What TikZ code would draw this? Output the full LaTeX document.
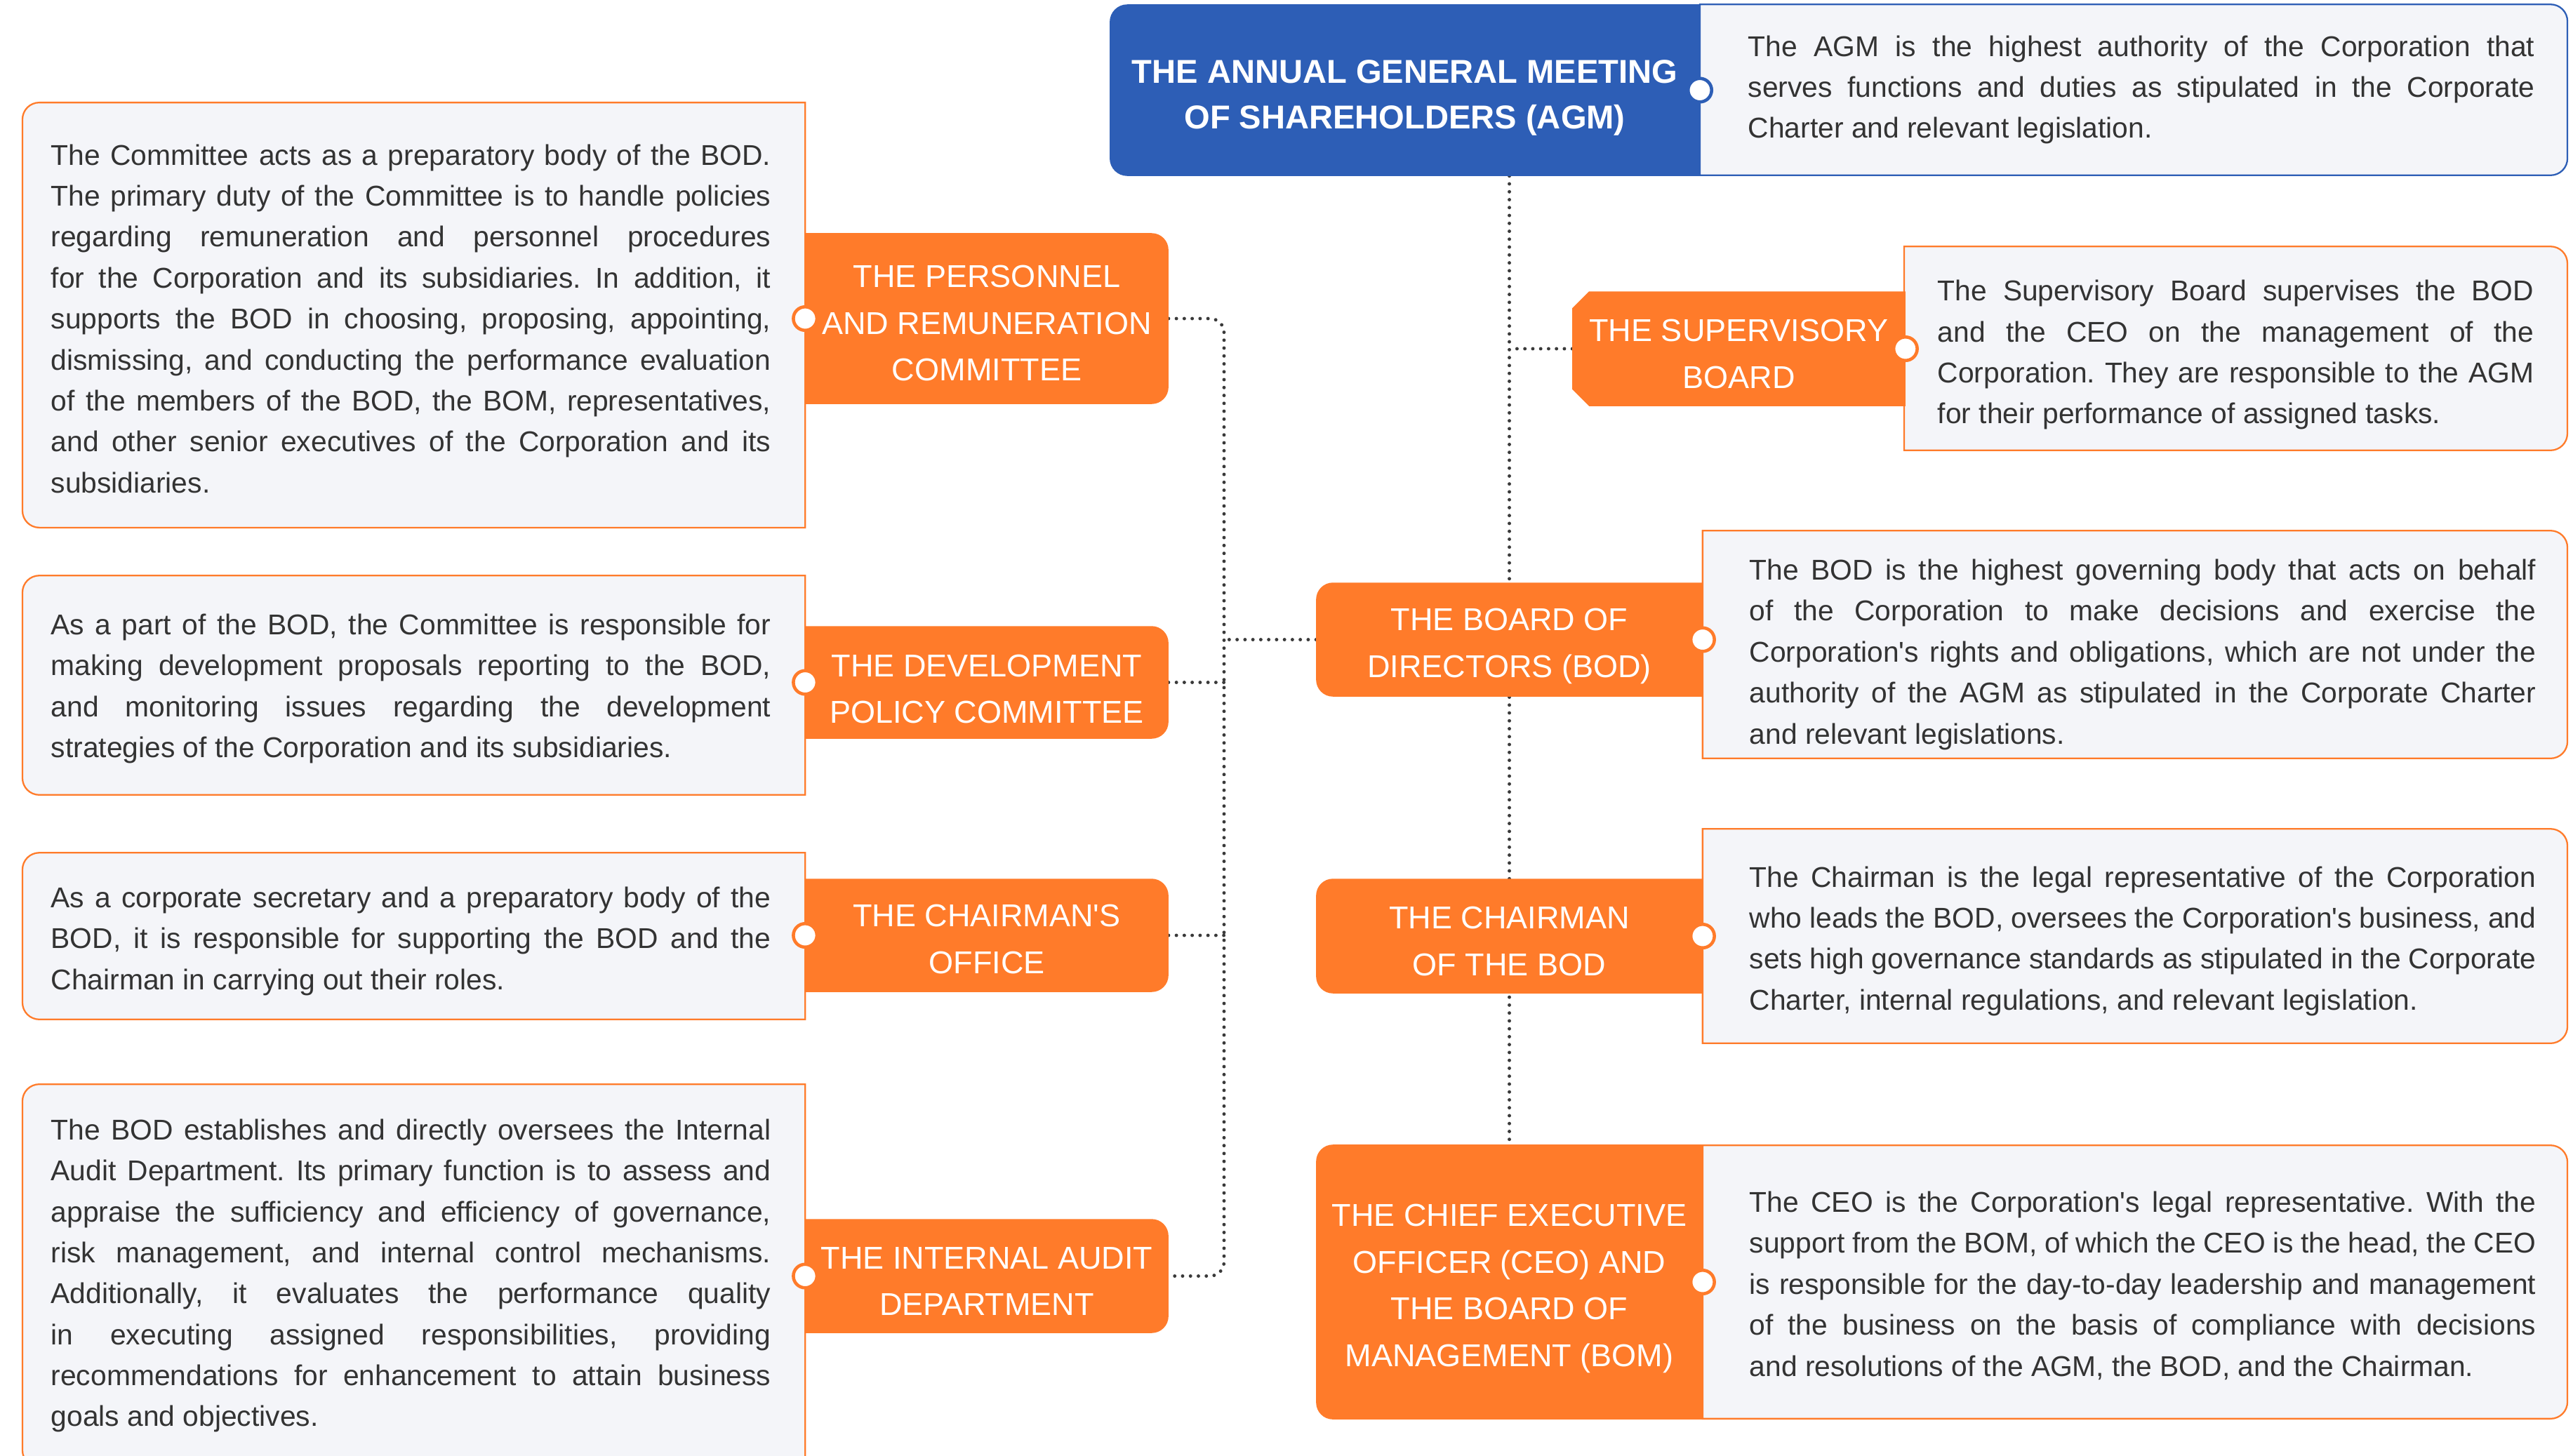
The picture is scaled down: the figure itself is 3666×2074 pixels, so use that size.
\documentclass[tikz,border=0pt]{standalone}
\usepackage{fontspec}
\setmainfont{Liberation Sans}
\usetikzlibrary{backgrounds}

\definecolor{corporange}{HTML}{FF7B2A}
\definecolor{agmblue}{HTML}{2D5EB6}
\definecolor{panel}{HTML}{F4F5F9}
\definecolor{textgray}{HTML}{333333}
\definecolor{linkgray}{HTML}{3A3A3A}
\tolerance=9999
\hyphenpenalty=10000
\frenchspacing

\begin{document}
\begin{tikzpicture}[
  x=0.01cm, y=-0.01cm,
  desctext/.style={inner sep=0pt, text=textgray, align=justify, font=\fontsize{11.6pt}{16.6pt}\selectfont},
  headtext/.style={inner sep=0pt, text=white, align=center, text depth=0pt, font=\fontsize{12.8pt}{18.9pt}\selectfont},
  panelbox/.style={fill=panel, draw=corporange, line width=0.65pt},
  headbox/.style={fill=corporange},
  link/.style={draw=linkgray, line width=1.4pt, line cap=round, dash pattern=on 0pt off 3.2pt},
  knob/.style={circle, fill=white, draw=corporange, line width=1.3pt, minimum size=0.335cm, inner sep=0pt}
]
  \useasboundingbox (0,0) rectangle (3666,2074);

  % right column
  \node[headtext, font=\bfseries\fontsize{13.4pt}{18.6pt}\selectfont, minimum width=8.39cm, minimum height=2.43cm] (agm) at (2001.5,128.5) {\rule{0pt}{12.7pt}THE ANNUAL GENERAL MEETING\\OF SHAREHOLDERS (AGM)};
  \node[desctext, text width=11.2cm, minimum width=12.12cm, minimum height=2.42cm] (agmd) at (3051,128) {The AGM is the highest authority of the Corporation that\linebreak serves functions and duties as stipulated in the Corporate\linebreak Charter and relevant legislation.};

  \node[headtext, minimum width=4.73cm, minimum height=1.62cm] (sb) at (2477.5,497) {\rule{0pt}{13.1pt}THE SUPERVISORY\\BOARD};
  \node[desctext, text width=8.49cm, minimum width=9.43cm, minimum height=2.89cm] (sbd) at (3185.5,496.5) {\rule{0pt}{13.6pt}The Supervisory Board supervises the BOD\linebreak and the CEO on the management of the\linebreak Corporation. They are responsible to the AGM\linebreak for their performance of assigned tasks.};

  \node[headtext, minimum width=5.49cm, minimum height=1.61cm] (bod) at (2150.5,911.5) {\rule{0pt}{11.6pt}THE BOARD OF\\DIRECTORS (BOD)};
  \node[desctext, text width=11.2cm, minimum width=12.08cm, minimum height=3.23cm] (bodd) at (3053,918.5) {\rule{0pt}{16.5pt}The BOD is the highest governing body that acts on behalf\linebreak of the Corporation to make decisions and exercise the\linebreak Corporation\textquotesingle s rights and obligations, which are not under the\linebreak authority of the AGM as stipulated in the Corporate Charter\linebreak and relevant legislations.};

  \node[headtext, minimum width=5.49cm, minimum height=1.62cm] (chm) at (2150.5,1334) {\rule{0pt}{13.1pt}THE CHAIRMAN\\OF THE BOD};
  \node[desctext, text width=11.2cm, minimum width=12.08cm, minimum height=3.04cm] (chmd) at (3053,1334) {\rule{0pt}{12.5pt}The Chairman is the legal representative of the Corporation\linebreak who leads the BOD, oversees the Corporation\textquotesingle s business, and\linebreak sets high governance standards as stipulated in the Corporate\linebreak Charter, internal regulations, and relevant legislation.};

  \node[headtext, minimum width=5.49cm, minimum height=3.90cm] (ceo) at (2150.5,1827) {\rule{0pt}{11.6pt}THE CHIEF EXECUTIVE\\OFFICER (CEO) AND\\THE BOARD OF\\MANAGEMENT (BOM)};
  \node[desctext, text width=11.2cm, minimum width=12.08cm, minimum height=3.88cm] (ceod) at (3053,1827) {\rule{0pt}{11.3pt}The CEO is the Corporation\textquotesingle s legal representative. With the\linebreak support from the BOM, of which the CEO is the head, the CEO\linebreak is responsible for the day-to-day leadership and management\linebreak of the business on the basis of compliance with decisions\linebreak and resolutions of the AGM, the BOD, and the Chairman.};

  % left column
  \node[desctext, text width=10.25cm, minimum width=11.05cm, minimum height=6.04cm] (prcd) at (585.5,449) {\rule{0pt}{11.3pt}The Committee acts as a preparatory body of the BOD.\linebreak The primary duty of the Committee is to handle policies\linebreak regarding remuneration and personnel procedures\linebreak for the Corporation and its subsidiaries. In addition, it\linebreak supports the BOD in choosing, proposing, appointing,\linebreak dismissing, and conducting the performance evaluation\linebreak of the members of the BOD, the BOM, representatives,\linebreak and other senior executives of the Corporation and its\linebreak subsidiaries.};
  \node[headtext, minimum width=5.16cm, minimum height=2.42cm] (prc) at (1406,454) {\rule{0pt}{12.6pt}THE PERSONNEL\\AND REMUNERATION\\COMMITTEE};

  \node[desctext, text width=10.25cm, minimum width=11.05cm, minimum height=3.11cm] (dpcd) at (585.5,976.5) {\rule{0pt}{11.3pt}As a part of the BOD, the Committee is responsible for\linebreak making development proposals reporting to the BOD,\linebreak and monitoring issues regarding the development\linebreak strategies of the Corporation and its subsidiaries.};
  \node[headtext, minimum width=5.16cm, minimum height=1.59cm] (dpc) at (1406,972.5) {\rule{0pt}{14.3pt}THE DEVELOPMENT\\POLICY COMMITTEE};

  \node[desctext, text width=10.25cm, minimum width=11.05cm, minimum height=2.36cm] (cofd) at (585.5,1334) {\rule{0pt}{12.5pt}As a corporate secretary and a preparatory body of the\linebreak BOD, it is responsible for supporting the BOD and the\linebreak Chairman in carrying out their roles.};
  \node[headtext, minimum width=5.16cm, minimum height=1.60cm] (cof) at (1406,1333) {\rule{0pt}{12pt}THE CHAIRMAN\textquotesingle S\\OFFICE};

  \node[desctext, text width=10.25cm, minimum width=11.05cm, minimum height=5.44cm] (iadd) at (585.5,1818) {The BOD establishes and directly oversees the Internal\linebreak Audit Department. Its primary function is to assess and\linebreak appraise the sufficiency and efficiency of governance,\linebreak risk management, and internal control mechanisms.\linebreak Additionally, it evaluates the performance quality\linebreak in executing assigned responsibilities, providing\linebreak recommendations for enhancement to attain business\linebreak goals and objectives.};
  \node[headtext, minimum width=5.16cm, minimum height=1.61cm] (iad) at (1406,1818.5) {\rule{0pt}{13.1pt}THE INTERNAL AUDIT\\DEPARTMENT};

  \coordinate (bus) at (1744,913);

  \begin{scope}[on background layer]
    % connectors
    \draw[link] (agm.south -| bod.north) -- (ceo.north);
    \draw[link] (sb.west) -- (sb.west -| bod.north);
    \draw[link] (bod.west) -- (bod.west -| bus);
    \draw[link, rounded corners=0.2cm] (prc.east) -- (prc.east -| bus) -- (iad.east -| bus) -- (iad.east);
    \draw[link] (dpc.east) -- (dpc.east -| bus);
    \draw[link] (cof.east) -- (cof.east -| bus);

    % panels, right side rounded (left edge runs on to the head box)
    \path[panelbox, draw=agmblue] (agm.north east) -- ([xshift=-0.24cm]agmd.north east) arc[start angle=90, end angle=0, radius=0.24cm]
      -- ([yshift=0.24cm]agmd.south east) arc[start angle=0, end angle=-90, radius=0.24cm] -- (agmd.south -| agm.east) -- cycle;
    \path[panelbox] (sbd.north west) -- ([xshift=-0.24cm]sbd.north east) arc[start angle=90, end angle=0, radius=0.24cm]
      -- ([yshift=0.24cm]sbd.south east) arc[start angle=0, end angle=-90, radius=0.24cm] -- (sbd.south west) -- cycle;
    \path[panelbox] (bodd.north -| bod.east) -- ([xshift=-0.24cm]bodd.north east) arc[start angle=90, end angle=0, radius=0.24cm]
      -- ([yshift=0.24cm]bodd.south east) arc[start angle=0, end angle=-90, radius=0.24cm] -- (bodd.south -| bod.east) -- cycle;
    \path[panelbox] (chmd.north -| chm.east) -- ([xshift=-0.24cm]chmd.north east) arc[start angle=90, end angle=0, radius=0.24cm]
      -- ([yshift=0.24cm]chmd.south east) arc[start angle=0, end angle=-90, radius=0.24cm] -- (chmd.south -| chm.east) -- cycle;
    \path[panelbox] (ceod.north -| ceo.east) -- ([xshift=-0.24cm]ceod.north east) arc[start angle=90, end angle=0, radius=0.24cm]
      -- ([yshift=0.24cm]ceod.south east) arc[start angle=0, end angle=-90, radius=0.24cm] -- (ceod.south -| ceo.east) -- cycle;

    % panels, left side rounded (right edge runs on to the head box)
    \path[panelbox] (prcd.north -| prc.west) -- ([xshift=0.24cm]prcd.north west) arc[start angle=90, end angle=180, radius=0.24cm]
      -- ([yshift=0.24cm]prcd.south west) arc[start angle=180, end angle=270, radius=0.24cm] -- (prcd.south -| prc.west) -- cycle;
    \path[panelbox] (dpcd.north -| dpc.west) -- ([xshift=0.24cm]dpcd.north west) arc[start angle=90, end angle=180, radius=0.24cm]
      -- ([yshift=0.24cm]dpcd.south west) arc[start angle=180, end angle=270, radius=0.24cm] -- (dpcd.south -| dpc.west) -- cycle;
    \path[panelbox] (cofd.north -| cof.west) -- ([xshift=0.24cm]cofd.north west) arc[start angle=90, end angle=180, radius=0.24cm]
      -- ([yshift=0.24cm]cofd.south west) arc[start angle=180, end angle=270, radius=0.24cm] -- (cofd.south -| cof.west) -- cycle;
    \path[panelbox] (iadd.north -| iad.west) -- ([xshift=0.24cm]iadd.north west) arc[start angle=90, end angle=180, radius=0.24cm]
      -- ([yshift=0.24cm]iadd.south west) arc[start angle=180, end angle=270, radius=0.24cm] -- (iadd.south -| iad.west) -- cycle;

    % head boxes, left side rounded
    \fill[agmblue] (agm.north east) -- ([xshift=0.25cm]agm.north west) arc[start angle=90, end angle=180, radius=0.25cm]
      -- ([yshift=0.25cm]agm.south west) arc[start angle=180, end angle=270, radius=0.25cm] -- (agm.south east) -- cycle;
    \fill[headbox] (bod.north east) -- ([xshift=0.24cm]bod.north west) arc[start angle=90, end angle=180, radius=0.24cm]
      -- ([yshift=0.24cm]bod.south west) arc[start angle=180, end angle=270, radius=0.24cm] -- (bod.south east) -- cycle;
    \fill[headbox] (chm.north east) -- ([xshift=0.24cm]chm.north west) arc[start angle=90, end angle=180, radius=0.24cm]
      -- ([yshift=0.24cm]chm.south west) arc[start angle=180, end angle=270, radius=0.24cm] -- (chm.south east) -- cycle;
    \fill[headbox] (ceo.north east) -- ([xshift=0.24cm]ceo.north west) arc[start angle=90, end angle=180, radius=0.24cm]
      -- ([yshift=0.24cm]ceo.south west) arc[start angle=180, end angle=270, radius=0.24cm] -- (ceo.south east) -- cycle;
    % supervisory board, chamfered
    \fill[headbox] (sb.north east) -- ([xshift=0.24cm]sb.north west) -- ([yshift=-0.24cm]sb.north west)
      -- ([yshift=0.24cm]sb.south west) -- ([xshift=0.24cm]sb.south west) -- (sb.south east) -- cycle;

    % head boxes, right side rounded
    \fill[headbox] (prc.north west) -- ([xshift=-0.24cm]prc.north east) arc[start angle=90, end angle=0, radius=0.24cm]
      -- ([yshift=0.24cm]prc.south east) arc[start angle=0, end angle=-90, radius=0.24cm] -- (prc.south west) -- cycle;
    \fill[headbox] (dpc.north west) -- ([xshift=-0.24cm]dpc.north east) arc[start angle=90, end angle=0, radius=0.24cm]
      -- ([yshift=0.24cm]dpc.south east) arc[start angle=0, end angle=-90, radius=0.24cm] -- (dpc.south west) -- cycle;
    \fill[headbox] (cof.north west) -- ([xshift=-0.24cm]cof.north east) arc[start angle=90, end angle=0, radius=0.24cm]
      -- ([yshift=0.24cm]cof.south east) arc[start angle=0, end angle=-90, radius=0.24cm] -- (cof.south west) -- cycle;
    \fill[headbox] (iad.north west) -- ([xshift=-0.24cm]iad.north east) arc[start angle=90, end angle=0, radius=0.24cm]
      -- ([yshift=0.24cm]iad.south east) arc[start angle=0, end angle=-90, radius=0.24cm] -- (iad.south west) -- cycle;
  \end{scope}

  % knobs on the box edges
  \node[knob, draw=agmblue] (kagm) at (agm.east) {};
  \node[knob] (ksb) at (sb.east) {};
  \node[knob] (kbod) at (bod.east) {};
  \node[knob] (kchm) at (chm.east) {};
  \node[knob] (kceo) at (ceo.east) {};
  \node[knob] (kprc) at (prc.west) {};
  \node[knob] (kdpc) at (dpc.west) {};
  \node[knob] (kcof) at (cof.west) {};
  \node[knob] (kiad) at (iad.west) {};
\end{tikzpicture}
\end{document}
